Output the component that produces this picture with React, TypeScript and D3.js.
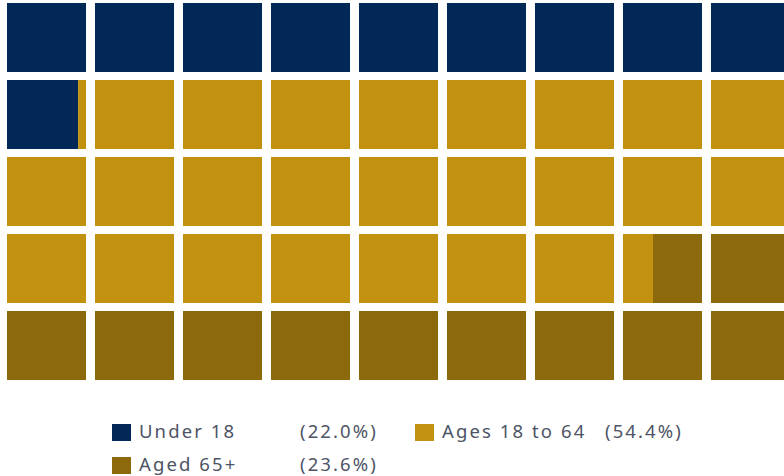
import React from 'react';
import * as d3 from 'd3';

// waffle: 45 cells, each share spread over cells in reading order
const CATEGORIES = ['Under 18', 'Ages 18 to 64', 'Aged 65+'];
const SHARES = [22.0, 54.4, 23.6];
const COLORS = ['#012856', '#c1910f', '#8c6a0b'];
const N_COLS = 9;
const N_ROWS = 5;

const W = 784;
const H = 476;

export default function App() {
  const cols = d3.range(N_COLS);
  const rows = d3.range(N_ROWS);
  const x = d3.scaleBand<number>().domain(cols).range([7, 790]).paddingInner(0.102).paddingOuter(0);
  const y = d3.scaleBand<number>().domain(rows).range([3, 380]).paddingInner(0.104).paddingOuter(0);
  const bw = x.bandwidth();
  const bh = y.bandwidth();

  const total = d3.sum(SHARES);
  const nCells = N_COLS * N_ROWS;
  const ends = d3.cumsum(SHARES.map(s => (s / total) * nCells));
  const starts = ends.map((e, i) => e - (SHARES[i] / total) * nCells);

  const pieces: { key: string; x: number; y: number; w: number; h: number; fill: string }[] = [];
  for (let c = 0; c < nCells; c++) {
    const r = Math.floor(c / N_COLS);
    const k = c % N_COLS;
    SHARES.forEach((_, i) => {
      const a = Math.max(starts[i], c);
      const b = Math.min(ends[i], c + 1);
      if (b - a > 1e-6) {
        pieces.push({
          key: `${c}-${i}`,
          x: (x(k) || 0) + (a - c) * bw,
          y: y(r) || 0,
          w: (b - a) * bw,
          h: bh,
          fill: COLORS[i],
        });
      }
    });
  }

  const legend = [
    { i: 0, lx: 112, ly: 424 },
    { i: 1, lx: 415, ly: 424 },
    { i: 2, lx: 112, ly: 457 },
  ];
  const pctX = [300, 605, 300];

  return (
    <svg width={W} height={H} style={{ position: 'absolute', left: 0, top: 0, background: '#fff' }}>
      {pieces.map(p => (
        <rect key={p.key} x={p.x} y={p.y} width={p.w} height={p.h} fill={p.fill} />
      ))}
      <g fontFamily="'Noto Sans', sans-serif" fontSize={18.5} fill="#4d5465" letterSpacing={2.1}>
        {legend.map(({ i, lx, ly }) => (
          <g key={CATEGORIES[i]}>
            <rect x={lx} y={ly} width={19} height={17} fill={COLORS[i]} />
            <text x={lx + 27} y={ly + 13.5}>{CATEGORIES[i]}</text>
            <text x={pctX[i]} y={ly + 13.5}>{`(${SHARES[i].toFixed(1)}%)`}</text>
          </g>
        ))}
      </g>
    </svg>
  );
}
